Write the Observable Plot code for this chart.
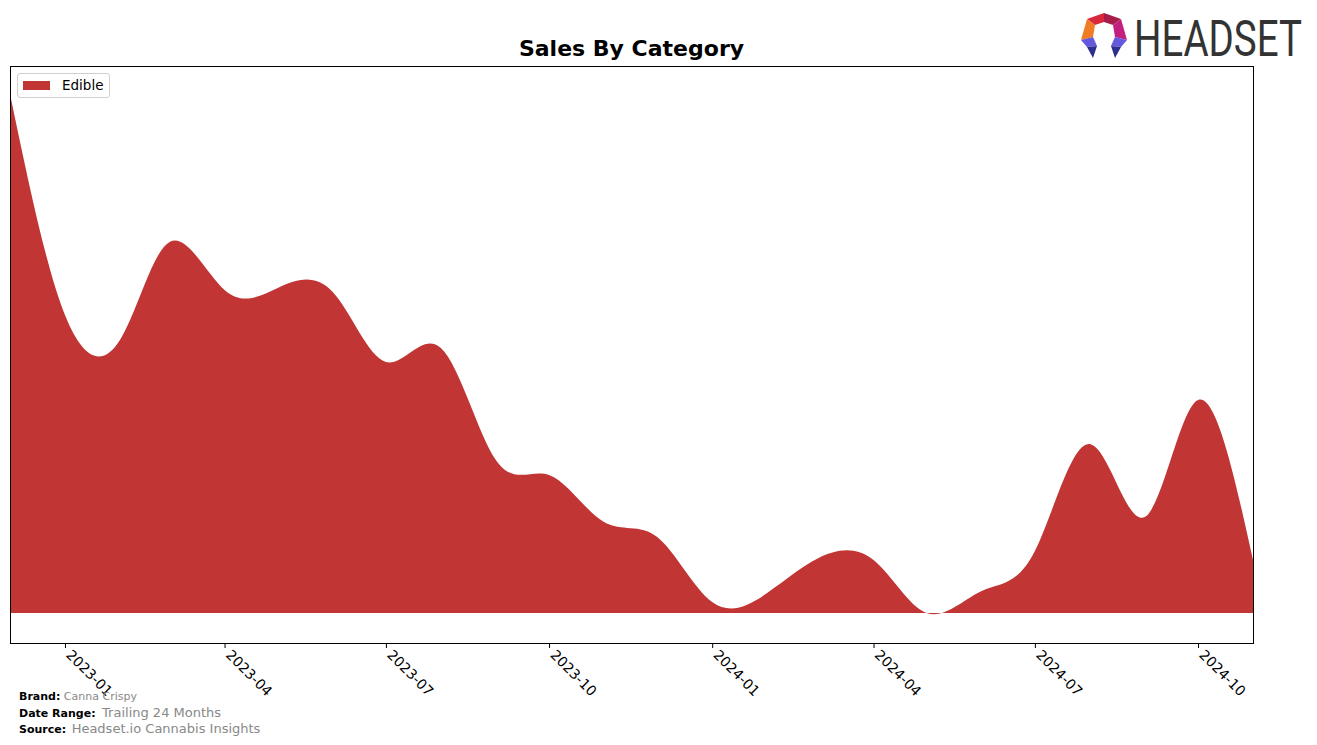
<!DOCTYPE html>
<html>
<head>
<meta charset="utf-8">
<script src="https://cdn.jsdelivr.net/npm/d3@7"></script>
<script src="https://cdn.jsdelivr.net/npm/@observablehq/plot@0.6"></script>
<style>
  html, body { margin: 0; padding: 0; background: #fff; }
  #wrap { position: relative; width: 1317px; height: 745px; font-family: "DejaVu Sans", sans-serif; }
  #wrap svg.plot { position: absolute; left: 0; top: 0; }
  .title { position: absolute; left: 0; width: 1263px; top: 36px; text-align: center; font-weight: bold; font-size: 22px; color: #000; }
  .legend { position: absolute; left: 17px; top: 73px; width: 91px; height: 23px; border: 1px solid #d0d0d0; border-radius: 3px; background: #fff; box-sizing: content-box; }
  .legend .sw { position: absolute; left: 5px; top: 7px; width: 27px; height: 9px; background: #c13535; }
  .legend .lb { position: absolute; left: 44px; top: 3px; font-size: 13.5px; color: #000; }
  .foot { position: absolute; left: 19px; font-size: 11px; white-space: nowrap; }
  .foot b { color: #000; }
  .foot span { color: #888; }
</style>
</head>
<body>
<div id="wrap"></div>
<script>
// Data (monthly, values in chart units)
const months = ["2022-12","2023-01","2023-02","2023-03","2023-04","2023-05","2023-06","2023-07","2023-08","2023-09","2023-10","2023-11","2023-12","2024-01","2024-02","2024-03","2024-04","2024-05","2024-06","2024-07","2024-08","2024-09","2024-10","2024-11"];
const edible = [519, 298, 273, 371, 323, 325, 321, 251, 265, 153, 138, 91, 76, 11, 20, 55, 53, 0, 22, 62, 169, 96, 213, 53];
const tickLabels = ["2023-01","2023-04","2023-07","2023-10","2024-01","2024-04","2024-07","2024-10"];
const category = "Edible";
const color = "#c13535";

const parse = d3.utcParse("%Y-%m");
const data = months.map((m, i) => ({date: parse(m), value: edible[i], category}));
const ticks = tickLabels.map(parse);

const chart = Plot.plot({
  width: 1317,
  height: 745,
  marginLeft: 10,
  marginRight: 64,
  marginTop: 66,
  marginBottom: 102,
  style: {fontFamily: "DejaVu Sans, sans-serif", fontSize: "14px", background: "transparent"},
  x: {type: "utc", domain: [parse(months[0]), parse(months[months.length - 1])], label: null},
  y: {domain: [-30, 547], axis: null},
  marks: [
    Plot.areaY(data, {x: "date", y: "value", fill: color, curve: "natural"}),
    Plot.frame({stroke: "#000", strokeWidth: 1}),
    Plot.axisX({ticks: ticks, tickSize: 5, tickFormat: () => "", label: null, stroke: "#000"}),
    Plot.axisX({ticks: ticks, tickSize: 0, tickPadding: 9, tickFormat: d3.utcFormat("%Y-%m"), tickRotate: 45, fontSize: 14, dx: 3, label: null, fill: "#000"})
  ]
});
chart.classList.add("plot");
const wrap = document.getElementById("wrap");
wrap.appendChild(chart);

// Title
const t = document.createElement("div");
t.className = "title";
t.textContent = "Sales By Category";
wrap.appendChild(t);

// Legend
const lg = document.createElement("div");
lg.className = "legend";
lg.innerHTML = `<div class="sw"></div><div class="lb">${category}</div>`;
wrap.appendChild(lg);

// Footer
const foot = [
  {k: "Brand:", v: "Canna Crispy", top: 690, vs: 11, gap: 0},
  {k: "Date Range:", v: "Trailing 24 Months", top: 705, vs: 13, gap: 3},
  {k: "Source:", v: "Headset.io Cannabis Insights", top: 721, vs: 13, gap: 2}
];
foot.forEach(f => {
  const d = document.createElement("div");
  d.className = "foot";
  d.style.top = f.top + "px";
  d.innerHTML = `<b>${f.k}</b> <span style="font-size:${f.vs}px;margin-left:${f.gap}px">${f.v}</span>`;
  wrap.appendChild(d);
});

// Logo
const ns = "http://www.w3.org/2000/svg";
const logo = document.createElementNS(ns, "svg");
logo.setAttribute("width", 242);
logo.setAttribute("height", 90);
logo.style.position = "absolute";
logo.style.left = "1075px";
logo.style.top = "0px";
logo.style.overflow = "visible";
logo.innerHTML = `
  <polygon points="29,13 29,22 20,25 12,19" fill="#d8283c"/>
  <polygon points="29,13 46,19 38,25 29,22" fill="#a51d48"/>
  <polygon points="12,19 20,25 18,37 6,40" fill="#f07c26"/>
  <polygon points="46,19 52,40 40,37 38,25" fill="#c2207e"/>
  <polygon points="6,40 18,37 22,46 12,47" fill="#6458dc"/>
  <polygon points="52,40 40,37 36,46 46,47" fill="#6458dc"/>
  <polygon points="12,47 22,46 18,58" fill="#2e2e8e"/>
  <polygon points="46,47 36,46 40,58" fill="#2e2e8e"/>
  <text id="logotext" font-family="Roboto, 'DejaVu Sans', sans-serif" font-size="50" fill="#333">HEADSET</text>
`;
wrap.appendChild(logo);
const lt = logo.querySelector("#logotext");
const w = lt.getComputedTextLength();
lt.setAttribute("transform", `translate(59,56) scale(${168 / w},1)`);
</script>
</body>
</html>
